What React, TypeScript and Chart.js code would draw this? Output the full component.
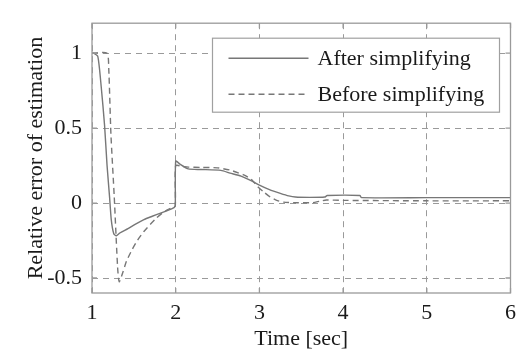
import React, { useEffect, useRef } from "react";
import { Chart, registerables } from "chart.js";

Chart.register(...registerables);

// ---- data ----
const seriesLabels = ["After simplifying", "Before simplifying"];
const xTitle = "Time [sec]";
const yTitle = "Relative error of estimation";
const xTicks = [1, 2, 3, 4, 5, 6];
const yTicks = [-0.5, 0, 0.5, 1];

const tAfter = [1, 1.02, 1.07, 1.11, 1.15, 1.18, 1.21, 1.23, 1.26, 1.29, 1.33, 1.43, 1.52, 1.62, 1.72, 1.82, 1.9, 1.98, 1.995, 2.0, 2.05, 2.15, 2.3, 2.54, 2.65, 2.78, 2.9, 3.0, 3.12, 3.25, 3.35, 3.43, 3.6, 3.78, 3.81, 4.2, 4.22, 5, 6];
const vAfter = [1, 1, 0.977, 0.776, 0.52, 0.25, 0.04, -0.11, -0.205, -0.218, -0.2, -0.17, -0.14, -0.11, -0.088, -0.067, -0.05, -0.03, -0.02, 0.28, 0.26, 0.228, 0.224, 0.218, 0.2, 0.18, 0.15, 0.12, 0.09, 0.065, 0.048, 0.04, 0.038, 0.04, 0.05, 0.05, 0.036, 0.036, 0.036];

const tBefore = [1, 1.18, 1.2, 1.226, 1.266, 1.306, 1.325, 1.37, 1.41, 1.48, 1.545, 1.62, 1.7, 1.77, 1.84, 1.9, 1.96, 1.995, 2.0, 2.08, 2.15, 2.3, 2.5, 2.65, 2.82, 2.9, 2.98, 3.05, 3.13, 3.2, 3.29, 3.45, 3.64, 3.72, 3.8, 4, 5, 6];
const vBefore = [1, 1, 0.9, 0.46, 0.04, -0.43, -0.525, -0.46, -0.39, -0.31, -0.247, -0.19, -0.14, -0.1, -0.067, -0.045, -0.03, -0.02, 0.25, 0.245, 0.24, 0.238, 0.235, 0.22, 0.186, 0.16, 0.11, 0.075, 0.04, 0.02, 0.006, 0.002, 0.003, 0.012, 0.02, 0.018, 0.015, 0.015];

const FONT = "'Liberation Serif', 'Times New Roman', serif";
const FONT_SIZE = 22;
const LINE_COLOR = "#777777";
const GRID_COLOR = "#9a9a9a";
const TEXT_COLOR = "#1a1a1a";

const frameAndLegend = {
  id: "frameAndLegend",
  afterDraw(chart: any) {
    const { ctx, chartArea } = chart;
    const { left, right, top, bottom } = chartArea;
    const xs = chart.scales.x;
    const ys = chart.scales.y;
    ctx.save();
    // frame
    ctx.strokeStyle = GRID_COLOR;
    ctx.lineWidth = 1.3;
    ctx.setLineDash([]);
    ctx.strokeRect(left, top, right - left, bottom - top);
    // inward ticks
    const tl = 5;
    ctx.beginPath();
    xTicks.forEach((v) => {
      const px = xs.getPixelForValue(v);
      ctx.moveTo(px, top);
      ctx.lineTo(px, top + tl);
      ctx.moveTo(px, bottom);
      ctx.lineTo(px, bottom - tl);
    });
    yTicks.forEach((v) => {
      const py = ys.getPixelForValue(v);
      ctx.moveTo(left, py);
      ctx.lineTo(left + tl, py);
      ctx.moveTo(right, py);
      ctx.lineTo(right - tl, py);
    });
    ctx.stroke();

    // legend
    const bx0 = right - 298;
    const bx1 = right - 11;
    const by0 = top + 15;
    const by1 = top + 89;
    ctx.fillStyle = "#ffffff";
    ctx.fillRect(bx0, by0, bx1 - bx0, by1 - by0);
    ctx.strokeStyle = "#a0a0a0";
    ctx.lineWidth = 1.2;
    ctx.strokeRect(bx0, by0, bx1 - bx0, by1 - by0);
    const rows = [by0 + 20, by0 + 56];
    chart.data.datasets.forEach((ds: any, i: number) => {
      const y = rows[i];
      ctx.strokeStyle = ds.borderColor;
      ctx.lineWidth = ds.borderWidth;
      ctx.setLineDash(ds.borderDash || []);
      ctx.beginPath();
      ctx.moveTo(bx0 + 16, y);
      ctx.lineTo(bx0 + 96, y);
      ctx.stroke();
      ctx.setLineDash([]);
      ctx.fillStyle = TEXT_COLOR;
      ctx.font = `${FONT_SIZE}px ${FONT}`;
      ctx.textBaseline = "alphabetic";
      ctx.textAlign = "left";
      ctx.fillText(ds.label, bx0 + 105, y + 7);
    });
    ctx.restore();
  },
};

export default function App() {
  const ref = useRef<HTMLCanvasElement | null>(null);
  useEffect(() => {
    if (!ref.current) return;
    const chart = new Chart(ref.current, {
      type: "line",
      data: {
        datasets: [
          {
            label: seriesLabels[0],
            data: tAfter.map((t, i) => ({ x: t, y: vAfter[i] })),
            borderColor: LINE_COLOR,
            borderWidth: 1.4,
            pointRadius: 0,
            tension: 0.2,
            fill: false,
          },
          {
            label: seriesLabels[1],
            data: tBefore.map((t, i) => ({ x: t, y: vBefore[i] })),
            borderColor: LINE_COLOR,
            borderWidth: 1.4,
            borderDash: [6, 4],
            pointRadius: 0,
            tension: 0.2,
            fill: false,
          },
        ],
      },
      options: {
        animation: false,
        responsive: false,
        maintainAspectRatio: false,
        layout: { padding: { left: 0, top: 7, right: 6, bottom: 0 } },
        plugins: { legend: { display: false }, tooltip: { enabled: false } },
        scales: {
          x: {
            type: "linear",
            min: 1,
            max: 6,
            afterBuildTicks: (s: any) => {
              s.ticks = xTicks.map((v) => ({ value: v }));
            },
            afterFit: (s: any) => {
              s.height = 63;
            },
            ticks: {
              font: { family: FONT, size: FONT_SIZE },
              color: TEXT_COLOR,
              padding: 7,
              maxRotation: 0,
            },
            grid: { color: GRID_COLOR, drawTicks: false, lineWidth: 1 },
            border: { display: false, dash: [6, 5] },
            title: {
              display: true,
              text: xTitle,
              font: { family: FONT, size: FONT_SIZE },
              color: TEXT_COLOR,
              padding: { top: 0, bottom: 4 },
            },
          },
          y: {
            type: "linear",
            min: -0.6,
            max: 1.2,
            afterBuildTicks: (s: any) => {
              s.ticks = yTicks.map((v) => ({ value: v }));
            },
            afterFit: (s: any) => {
              s.width = 92;
            },
            ticks: {
              font: { family: FONT, size: FONT_SIZE },
              color: TEXT_COLOR,
              padding: 10,
              callback: (v: any) => String(v),
            },
            grid: { color: GRID_COLOR, drawTicks: false, lineWidth: 1 },
            border: { display: false, dash: [6, 5] },
            title: {
              display: true,
              text: yTitle,
              font: { family: FONT, size: FONT_SIZE },
              color: TEXT_COLOR,
              padding: { top: 23, bottom: 0 },
            },
          },
        },
      },
      plugins: [frameAndLegend],
    });
    return () => chart.destroy();
  }, []);
  return (
    <div style={{ position: "fixed", left: 0, top: 0, width: 523, height: 356, background: "#fff" }}>
      <canvas ref={ref} width={523} height={356} style={{ width: 523, height: 356 }} />
    </div>
  );
}
